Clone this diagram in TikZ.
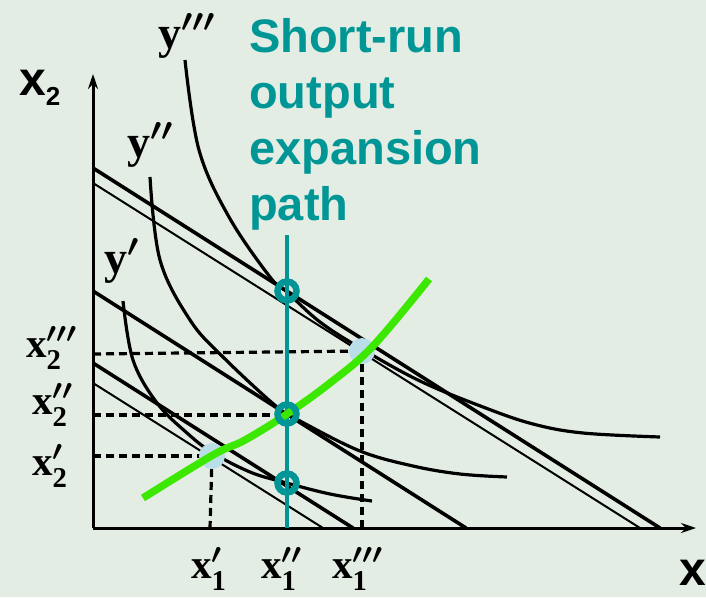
\RequirePackage{fix-cm}
\documentclass[tikz,border=0pt]{standalone}
\usepackage{amsmath}
\usepackage{fontspec}
\setmainfont{Liberation Serif}
\newfontfamily\sansf{Liberation Sans}
\usetikzlibrary{arrows.meta}
\definecolor{bg}{RGB}{228,237,228}
\definecolor{tealc}{RGB}{0,150,150}
\definecolor{grn}{RGB}{60,232,0}
\definecolor{lblue}{RGB}{186,222,232}
\newcommand{\bx}[1]{\textbf{#1}}
\begin{document}
\begin{tikzpicture}[x=1pt,y=-1pt,
  axis/.style={line width=3pt,-{Stealth[length=15pt,width=10pt]}},
  thickl/.style={line width=3.6pt},
  thinl/.style={line width=2pt},
  iso/.style={line width=3.2pt},
  dashl/.style={line width=3.2pt,dash pattern=on 8pt off 5pt},
  tealline/.style={line width=3.6pt,draw=tealc},
  ring/.style={circle,draw=tealc,line width=6.5pt,minimum size=19pt,inner sep=0pt},
  ldot/.style={circle,fill=lblue,minimum size=26pt,inner sep=0pt},
  greenl/.style={line width=7.5pt,draw=grn},
  lab/.style={inner sep=0pt,font=\fontsize{41}{41}\selectfont\boldmath},
  ylab/.style={inner sep=0pt,font=\fontsize{46}{46}\selectfont\boldmath},
  ttext/.style={inner sep=0pt,anchor=base west,text=tealc,font=\sansf\bfseries\fontsize{47}{56}\selectfont},
  axlab/.style={inner sep=0pt,anchor=base west,font=\sansf\bfseries\fontsize{48}{48}\selectfont}
]
\fill[bg] (0,0) rectangle (706,597);
\useasboundingbox (0,0) rectangle (706,597);

% axes
\coordinate (O) at (93,528);
\coordinate (Ytop) at (93,74);
\coordinate (Xend) at (696,528);

% long-run tangency point positions
\coordinate (p1) at (212,456);
\coordinate (p3) at (362,351);

% dashed guides
\coordinate (h3) at (93,354);
\coordinate (h2) at (93,415);
\coordinate (h1) at (93,456);
\coordinate (v1) at (210,528);
\coordinate (v3) at (362,528);
\coordinate (m2) at (287,415);
\draw[dashl] (h3) -- (p3);
\draw[dashl] (h2) -- (m2);
\draw[dashl] (h1) -- (p1);
\draw[dashl] (p1) -- (v1);
\draw[dashl] (p3) -- (v3);

% isocost lines
\coordinate (a3) at (93,168);  \coordinate (b3) at (660,528);
\coordinate (c3) at (93,183);  \coordinate (d3) at (640,528);
\coordinate (a2) at (93,291);  \coordinate (b2) at (466,528);
\coordinate (a1) at (93,363);  \coordinate (b1) at (353,528);
\coordinate (c1) at (93,383);  \coordinate (d1) at (323,528);
\draw[thickl] (a3) -- (b3);
\draw[thinl] (c3) -- (d3);
\draw[thickl] (a2) -- (b2);
\draw[thickl] (a1) -- (b1);
\draw[thinl] (c1) -- (d1);

% isoquants
\draw[iso] plot[smooth,tension=0.6] coordinates {(185,60) (199,150) (229,217) (270,277) (287,292) (320,322) (362,349) (420,381) (483,407) (533,424) (583,433) (660,437)};
\draw[iso] plot[smooth,tension=0.6] coordinates {(150,177) (160,260) (190,320) (223,357) (277,407) (300,421) (360,451) (413,466) (460,474) (507,477)};
\draw[iso] plot[smooth,tension=0.6] coordinates {(123,301) (133,360) (157,403) (187,433) (213,453) (250,472) (283,482) (330,494) (372,501)};

% axes on top
\draw[axis] (O) -- (Ytop);
\draw[axis] (O) -- (Xend);

% long-run tangency points
\node[ldot] (L1) at (p1) {};
\node[ldot] (L3) at (p3) {};

% short-run expansion path
\coordinate (Ptop) at (287,235);
\coordinate (Pbot) at (287,528);
\draw[tealline] (Ptop) -- (Pbot);

% long-run expansion path
\draw[greenl] plot[smooth,tension=0.6] coordinates {(143,498) (213,455) (245,440) (287,414) (330,383) (373,346) (429,279)};

% short-run points
\node[ring] (S3) at (287,291) {};
\node[ring] (S2) at (287,414) {};
\node[ring] (S1) at (287,483) {};

% labels
\node[ttext] (t1) at (249,52) {Short-run};
\node[ttext] (t2) at (249,108) {output};
\node[ttext] (t3) at (249,164) {expansion};
\node[ttext] (t4) at (249,220) {path};

\node[axlab] (ax2) at (19,95) {x\raisebox{-10pt}{\fontsize{26}{26}\selectfont 2}};
\node[axlab] (ax1) at (679,585) {x};

\node[ylab,anchor=base west] (y3) at (158,48) {$\text{\bx{y}}'''$};
\node[ylab,anchor=base west] (y2) at (127,157) {$\text{\bx{y}}''$};
\node[ylab,anchor=base west] (y1) at (104,273) {$\text{\bx{y}}'$};

\node[lab,anchor=base west] (x23) at (26,357) {$\text{\bx{x}}_{\text{\bx{2}}}'''$};
\node[lab,anchor=base west] (x22) at (32,414) {$\text{\bx{x}}_{\text{\bx{2}}}''$};
\node[lab,anchor=base west] (x21) at (32,475) {$\text{\bx{x}}_{\text{\bx{2}}}'$};

\node[lab,anchor=base west] (x11) at (191,578) {$\text{\bx{x}}_{\text{\bx{1}}}'$};
\node[lab,anchor=base west] (x12) at (261,578) {$\text{\bx{x}}_{\text{\bx{1}}}''$};
\node[lab,anchor=base west] (x13) at (332,578) {$\text{\bx{x}}_{\text{\bx{1}}}'''$};
\end{tikzpicture}
\end{document}
